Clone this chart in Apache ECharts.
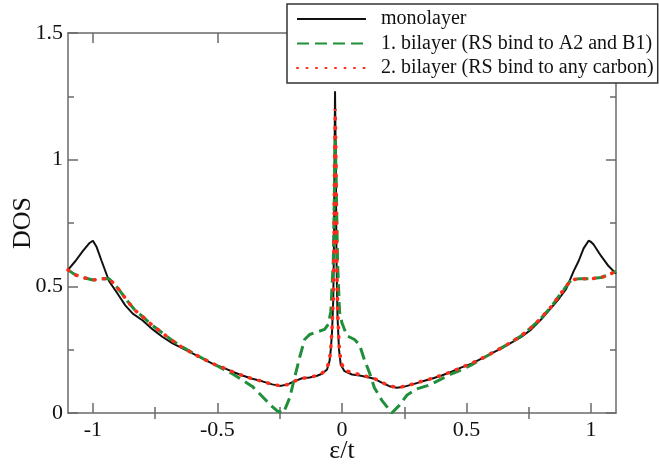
<!DOCTYPE html>
<html>
<head>
<meta charset="utf-8">
<script src="https://cdn.jsdelivr.net/npm/echarts@6/dist/echarts.min.js"></script>
<style>
html,body{margin:0;padding:0;background:#fff;}
#chart{width:659px;height:465px;}
</style>
</head>
<body>
<div id="chart"></div>
<script>
// ---- data ----
const seriesNames = ['monolayer', '1. bilayer (RS bind to A2 and B1)', '2. bilayer (RS bind to any carbon)'];

const monoX = [-1.1,-1.07,-1.04,-1.015,-1.0,-0.985,-0.965,-0.935,-0.9,-0.87,-0.84,-0.8,-0.76,-0.72,-0.68,-0.64,-0.6,-0.56,-0.52,-0.48,-0.44,-0.4,-0.36,-0.32,-0.28,-0.25,-0.22,-0.19,-0.16,-0.13,-0.1,-0.08,-0.06,-0.05,-0.045,-0.04,-0.035,-0.032,-0.03,-0.028,-0.025,-0.022,-0.018,-0.012,-0.005,0.01,0.04,0.07,0.1,0.13,0.16,0.19,0.22,0.25,0.28,0.32,0.36,0.4,0.44,0.48,0.52,0.56,0.6,0.64,0.68,0.72,0.76,0.8,0.84,0.87,0.9,0.93,0.95,0.97,0.99,1.0,1.01,1.04,1.07,1.1];
const monoY = [0.565,0.6,0.64,0.67,0.68,0.655,0.6,0.52,0.47,0.425,0.392,0.365,0.33,0.3,0.275,0.255,0.235,0.215,0.195,0.18,0.163,0.148,0.135,0.125,0.113,0.107,0.112,0.126,0.137,0.14,0.147,0.155,0.172,0.205,0.25,0.32,0.45,0.7,1.0,1.27,1.0,0.6,0.38,0.25,0.19,0.165,0.152,0.148,0.142,0.135,0.12,0.106,0.1,0.104,0.112,0.124,0.135,0.148,0.163,0.18,0.195,0.215,0.235,0.255,0.278,0.3,0.33,0.37,0.415,0.45,0.49,0.56,0.6,0.65,0.68,0.675,0.665,0.62,0.58,0.55];

const bi1X = [-1.1,-1.07,-1.04,-1.0,-0.96,-0.935,-0.91,-0.89,-0.86,-0.83,-0.8,-0.76,-0.72,-0.68,-0.64,-0.6,-0.56,-0.52,-0.48,-0.44,-0.4,-0.36,-0.32,-0.28,-0.26,-0.235,-0.21,-0.19,-0.17,-0.15,-0.13,-0.1,-0.07,-0.055,-0.045,-0.035,-0.03,-0.027,-0.023,-0.018,-0.01,0.0,0.02,0.05,0.07,0.09,0.11,0.13,0.16,0.2,0.23,0.26,0.3,0.35,0.4,0.44,0.48,0.52,0.56,0.6,0.64,0.68,0.72,0.76,0.8,0.84,0.87,0.9,0.92,0.95,1.0,1.04,1.07,1.1];
const bi1Y = [0.565,0.545,0.535,0.525,0.53,0.53,0.505,0.48,0.44,0.405,0.38,0.345,0.315,0.285,0.26,0.237,0.216,0.196,0.175,0.155,0.13,0.105,0.065,0.025,0.008,0.0,0.06,0.14,0.22,0.29,0.31,0.32,0.33,0.35,0.4,0.6,0.9,1.08,0.9,0.6,0.4,0.355,0.305,0.29,0.27,0.21,0.16,0.1,0.05,0.0,0.03,0.07,0.095,0.11,0.135,0.155,0.17,0.19,0.213,0.235,0.257,0.28,0.305,0.338,0.375,0.42,0.46,0.5,0.525,0.53,0.53,0.535,0.545,0.56];

const bi2X = [-1.1,-1.07,-1.04,-1.0,-0.96,-0.935,-0.91,-0.89,-0.86,-0.83,-0.8,-0.76,-0.72,-0.68,-0.64,-0.6,-0.56,-0.52,-0.48,-0.44,-0.4,-0.36,-0.32,-0.28,-0.25,-0.22,-0.19,-0.16,-0.13,-0.1,-0.08,-0.06,-0.05,-0.045,-0.04,-0.035,-0.032,-0.03,-0.027,-0.024,-0.021,-0.017,-0.011,-0.004,0.01,0.04,0.07,0.1,0.13,0.16,0.19,0.22,0.25,0.28,0.32,0.36,0.4,0.44,0.48,0.52,0.56,0.6,0.64,0.68,0.72,0.76,0.8,0.84,0.87,0.9,0.92,0.95,1.0,1.04,1.07,1.1];
const bi2Y = [0.565,0.545,0.535,0.525,0.53,0.53,0.505,0.48,0.44,0.405,0.38,0.345,0.315,0.285,0.258,0.236,0.215,0.195,0.18,0.163,0.148,0.135,0.125,0.113,0.108,0.112,0.126,0.137,0.141,0.148,0.157,0.178,0.21,0.255,0.33,0.46,0.7,0.98,1.2,0.98,0.62,0.39,0.26,0.2,0.17,0.158,0.152,0.144,0.136,0.121,0.107,0.101,0.105,0.113,0.125,0.136,0.149,0.163,0.18,0.196,0.215,0.236,0.257,0.28,0.305,0.338,0.375,0.42,0.46,0.5,0.525,0.53,0.53,0.535,0.545,0.56];

const xLabelValues = [-1, -0.5, 0, 0.5, 1];
const xMinorValues = [-0.75, -0.25, 0.25, 0.75];

// ---- chart ----
const pair = (xs, ys) => xs.map((x, i) => [x, ys[i]]);
const axisColor = '#6a6a6a';
const serif = '"Liberation Serif", "Times New Roman", serif';

const chart = echarts.init(document.getElementById('chart'), null, {renderer: 'canvas'});

const baseX = {
  type: 'value', min: -1.1, max: 1.1, gridIndex: 0,
  splitLine: {show: false},
  axisLine: {show: true, onZero: false, lineStyle: {color: axisColor, width: 1.5}}
};

chart.setOption({
  animation: false,
  backgroundColor: '#fff',
  grid: {left: 68, right: 43, top: 33, bottom: 52, containLabel: false, outerBoundsMode: 'none'},
  legend: {
    orient: 'vertical', left: 287, top: 4,
    backgroundColor: '#fff', borderColor: '#333', borderWidth: 1.5, borderRadius: 0,
    padding: [5, 4, 5, 9],
    itemWidth: 69, itemHeight: 20, itemGap: 4.5,
    itemStyle: {opacity: 0},
    textStyle: {fontFamily: serif, fontSize: 20, color: '#111', lineHeight: 20, padding: [0, 0, 0, 10]},
    data: seriesNames,
    z: 10
  },
  xAxis: [
    Object.assign({}, baseX, {
      position: 'bottom',
      name: 'ε/t', nameLocation: 'middle', nameGap: 25, nameMoveOverlap: false,
      nameTextStyle: {fontFamily: serif, fontSize: 26, color: '#111'},
      axisTick: {show: true, inside: true, length: 10, customValues: xLabelValues, lineStyle: {color: axisColor, width: 1.5}},
      axisLabel: {show: true, margin: 6, customValues: xLabelValues, fontFamily: serif, fontSize: 22, color: '#111',
        formatter: v => String(v)}
    }),
    Object.assign({}, baseX, {
      position: 'bottom', axisLine: {show: false},
      axisTick: {show: true, inside: true, length: 6, customValues: xMinorValues, lineStyle: {color: axisColor, width: 1.5}},
      axisLabel: {show: false}
    }),
    Object.assign({}, baseX, {
      position: 'top',
      axisTick: {show: true, inside: true, length: 10, customValues: xLabelValues, lineStyle: {color: axisColor, width: 1.5}},
      axisLabel: {show: false}
    }),
    Object.assign({}, baseX, {
      position: 'top', axisLine: {show: false},
      axisTick: {show: true, inside: true, length: 6, customValues: xMinorValues, lineStyle: {color: axisColor, width: 1.5}},
      axisLabel: {show: false}
    })
  ],
  yAxis: [
    {
      type: 'value', min: 0, max: 1.5, interval: 0.5, position: 'left',
      name: 'DOS', nameLocation: 'middle', nameGap: 32, nameRotate: 90, nameMoveOverlap: false,
      nameTextStyle: {fontFamily: serif, fontSize: 26, color: '#111'},
      splitLine: {show: false},
      axisLine: {show: true, onZero: false, lineStyle: {color: axisColor, width: 1.5}},
      axisTick: {show: true, inside: true, length: 10, lineStyle: {color: axisColor, width: 1.5}},
      minorTick: {show: true, splitNumber: 2, length: 6, lineStyle: {color: axisColor, width: 1.5}},
      axisLabel: {margin: 5, fontFamily: serif, fontSize: 22, color: '#111', formatter: v => String(v)}
    },
    {
      type: 'value', min: 0, max: 1.5, interval: 0.5, position: 'right',
      splitLine: {show: false},
      axisLine: {show: true, onZero: false, lineStyle: {color: axisColor, width: 1.5}},
      axisTick: {show: true, inside: true, length: 10, lineStyle: {color: axisColor, width: 1.5}},
      minorTick: {show: true, splitNumber: 2, length: 6, lineStyle: {color: axisColor, width: 1.5}},
      axisLabel: {show: false}
    }
  ],
  series: [
    {
      name: seriesNames[0], type: 'line', xAxisIndex: 0, yAxisIndex: 0,
      data: pair(monoX, monoY), symbol: 'none', showSymbol: false, z: 2,
      lineStyle: {color: '#111', width: 2}, itemStyle: {color: '#111'}
    },
    {
      name: seriesNames[1], type: 'line', xAxisIndex: 0, yAxisIndex: 0,
      data: pair(bi1X, bi1Y), symbol: 'none', showSymbol: false, z: 3,
      lineStyle: {color: '#1f8f3a', width: 3, type: [12, 6]}, itemStyle: {color: '#1f8f3a'}
    },
    {
      name: seriesNames[2], type: 'line', xAxisIndex: 0, yAxisIndex: 0,
      data: pair(bi2X, bi2Y), symbol: 'none', showSymbol: false, z: 4,
      lineStyle: {color: '#ff2a1a', width: 3.5, type: [1, 8.5], cap: 'round'}, itemStyle: {color: '#ff2a1a'}
    }
  ]
});
</script>
</body>
</html>
